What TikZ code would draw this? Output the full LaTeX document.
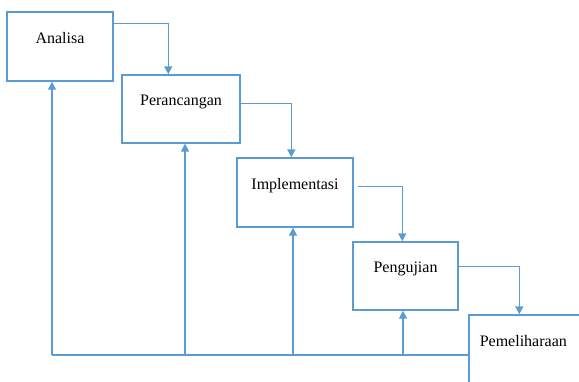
\documentclass[tikz,border=0pt]{standalone}
\usepackage{fontspec}
\setmainfont{Liberation Serif}
\newfontfamily\boxfont{Liberation Serif}
\usetikzlibrary{arrows.meta,calc}
\definecolor{flowblue}{RGB}{91,155,213}
\tikzset{
  box/.style={draw=flowblue, line width=1.4pt, inner sep=0pt},
  lbl/.style={font=\boxfont\fontsize{16}{19}\selectfont, inner sep=0pt},
  link/.style={draw=flowblue, line width=1.4pt,
    -{Triangle[width=8pt,length=8pt]}},
  back/.style={draw=flowblue, line width=1.4pt},
}

\begin{document}
\begin{tikzpicture}[x=1pt,y=-1pt]
\clip (0,0) rectangle (579,381);
% boxes
\node[box, minimum width=106pt, minimum height=69pt] (analisa) at (60,46.5) {};
\node[box, minimum width=118pt, minimum height=68pt] (perancangan) at (181,109) {};
\node[box, minimum width=116pt, minimum height=69pt] (implementasi) at (295,192.5) {};
\node[box, minimum width=105pt, minimum height=68pt] (pengujian) at (405.5,276) {};
\node[box, minimum width=114pt, minimum height=80pt] (pemeliharaan) at (526,355) {};
% labels
\node[lbl] (analisa-t) at ($(analisa.north)+(0,27)$) {Analisa};
\node[lbl] (perancangan-t) at ($(perancangan.north)+(0,28)$) {Perancangan};
\node[lbl] (implementasi-t) at ($(implementasi.north)+(0,28)$) {Implementasi};
\node[lbl] (pengujian-t) at ($(pengujian.north)+(0,28)$) {Pengujian};
\node[lbl] (pemeliharaan-t) at ($(pemeliharaan.north west)+(55,27)$) {Pemeliharaan};
% forward steps
\draw[link] ($(analisa.north east)+(0,12)$) -| ($(perancangan.north west)+(47,0)$);
\draw[link] ($(perancangan.north east)+(0,29)$) -| ($(implementasi.north west)+(55,0)$);
\draw[link] ($(implementasi.north east)+(4,29)$) -| ($(pengujian.north west)+(50,0)$);
\draw[link] ($(pengujian.north east)+(0,25)$) -| ($(pemeliharaan.north west)+(51,0)$);
% feedback
\coordinate (base) at (52,355);
\draw[back] (pemeliharaan.west |- base) -- (base);
\foreach \n/\d in {analisa/-8,perancangan/4,implementasi/-2,pengujian/-2.5}
  \draw[link] ([xshift=\d pt]\n.south |- base) -- ([xshift=\d pt]\n.south);
\end{tikzpicture}
\end{document}
